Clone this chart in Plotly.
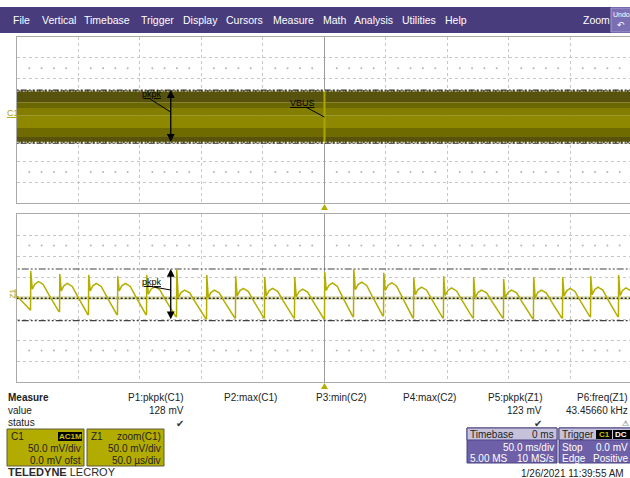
import numpy as np
import plotly.graph_objects as go

W, H = 630, 478

# ---- values ----
# C1, upper pane (50 ms/div, 50 mV/div): persistence band, mV
band_top_mv = [72, 43, 29, 10, -19, -41]
band_bot_mv = [43, 29, 10, -19, -41, -56]
band_colors = ["#57530c", "#6b6700", "#837e00", "#8d8800", "#6f6b00", "#57530c"]
c1_cursor_mv = [72, -56]          # P1 pkpk = 128 mV

# Z1, lower pane (50 us/div, 50 mV/div): one entry per ripple cycle
spike_us = [-239.0, -215.4, -191.9, -168.3, -144.7, -120.3, -95.9, -72.4, -48.8, -24.4, 0.0,
            23.6, 48.0, 72.4, 96.7, 121.1, 145.5, 169.9, 193.5, 216.3, 239.0]
spike_top_mv = [64, 57, 55, 52, 55, 67, 55, 52, 50, 50, 62, 69, 60, 48, 52, 50, 45, 50, 50, 52, 55]
hump_mv = [39, 35, 35, 35, 27, 19, 19, 23, 23, 21, 36, 38, 36, 26, 24, 19, 19, 19, 23, 26, 24]
min_mv = [-29, -33, -40, -40, -40, -45, -50, -48, -48, -48, -50, -45, -43, -48, -48, -48, -48,
          -50, -48, -45, -45]
lead_in_us, lead_in_mv = -250.0, 5.0
# shape of one cycle (phase of period), read from the cycle at the trigger
rise_phase = [0.06, 0.15, 0.27]
rise_off_mv = [-18, -6, 0]
fall_phase = [0.36, 0.44, 0.62, 0.79, 0.97]
fall_frac = [0.04, 0.10, 0.41, 0.71, 0.98]
z1_cursor_mv = [69, -54]          # P5 pkpk = 123 mV

menu_items = ["File", "Vertical", "Timebase", "Trigger", "Display", "Cursors", "Measure",
              "Math", "Analysis", "Utilities", "Help"]
menu_x = [12, 41, 83, 140, 182, 225, 272, 322, 353, 401, 444]

# ---- build Z1 trace ----
zt, zv = [lead_in_us], [lead_in_mv]
n = len(spike_us)
for k in range(n):
    s = spike_us[k]
    P = spike_us[k + 1] - s if k < n - 1 else s - spike_us[k - 1]
    nxt = min_mv[k + 1] if k < n - 1 else min_mv[k]
    zt += [s, s + 0.008 * P]
    zv += [min_mv[k], spike_top_mv[k]]
    for ph, off in zip(rise_phase, rise_off_mv):
        zt.append(s + ph * P)
        zv.append(hump_mv[k] + off)
    for ph, fr in zip(fall_phase, fall_frac):
        zt.append(s + ph * P)
        zv.append(hump_mv[k] + fr * (nxt - hump_mv[k]))

OLIVE = "#b3ae00"
FONT = "Liberation Sans, Arial, sans-serif"
XR = [-250, 248.4]

fig = go.Figure()

# upper pane band
for top, bot, col in zip(band_top_mv, band_bot_mv, band_colors):
    fig.add_trace(go.Scatter(x=[-260, 260, 260, -260, -260], y=[top, top, bot, bot, top],
                             mode="lines", fill="toself", fillcolor=col, line=dict(width=0),
                             hoverinfo="skip", xaxis="x", yaxis="y"))
fig.add_trace(go.Scatter(x=[0, 0], y=[band_bot_mv[-1], band_top_mv[0]], mode="lines",
                         line=dict(color="#aba700", width=2), xaxis="x", yaxis="y"))
for c in c1_cursor_mv:
    inner = c - 1.5 if c > 0 else c + 1.5
    fig.add_trace(go.Scatter(x=[-260, 260], y=[inner, inner], mode="lines",
                             line=dict(color="white", width=1.5, dash="2px,1px,1px,2px"),
                             xaxis="x", yaxis="y"))
    fig.add_trace(go.Scatter(x=[-260, 260], y=[c, c], mode="lines",
                             line=dict(color="#303030", width=1.2, dash="6px,2px,2px,2px,2px,2px"),
                             xaxis="x", yaxis="y"))

# dotted sub-division rows
dot_x = [v for v in np.arange(-250, 251, 10) if v % 50 != 0]
for ax, ay in [("x", "y"), ("x2", "y2")]:
    for lvl in [125, -125]:
        fig.add_trace(go.Scatter(x=dot_x, y=[lvl] * len(dot_x), mode="markers",
                                 marker=dict(color="#b4b4b4", size=2), xaxis=ax, yaxis=ay))

# lower pane
fig.add_trace(go.Scatter(x=[-260, 260], y=[0, 0], mode="lines",
                         line=dict(color="rgba(200,200,120,0.5)", width=4), xaxis="x2", yaxis="y2"))
fig.add_trace(go.Scatter(x=[-260, 260], y=[-0.5, -0.5], mode="lines",
                         line=dict(color="#222", width=1.5, dash="2px,2px"), xaxis="x2", yaxis="y2"))
for c in z1_cursor_mv:
    fig.add_trace(go.Scatter(x=[-260, 260], y=[c, c], mode="lines",
                             line=dict(color="#404040", width=1.2, dash="7px,2px,2px,2px,2px,2px"),
                             xaxis="x2", yaxis="y2"))
fig.add_trace(go.Scatter(x=zt, y=zv, mode="lines", line=dict(color=OLIVE, width=1.5),
                         xaxis="x2", yaxis="y2"))

gx = dict(range=XR, dtick=50, tick0=0, showgrid=True, gridcolor="#c6c6c6", griddash="dot",
          zeroline=True, zerolinecolor="#9c9c9c", zerolinewidth=1, showline=True,
          linecolor="#aaaaaa", mirror=True, showticklabels=False, ticks="",
          domain=[17 / W, 1], fixedrange=True)
gy = dict(range=[-200, 200], dtick=50, tick0=0, showgrid=True, gridcolor="#c6c6c6",
          griddash="dot", zeroline=False, showline=True, linecolor="#aaaaaa", mirror=False,
          showticklabels=False, ticks="", fixedrange=True)

fig.update_layout(
    width=W, height=H, margin=dict(l=0, r=0, t=0, b=0),
    paper_bgcolor="white", plot_bgcolor="white", showlegend=False,
    font=dict(family=FONT, size=10, color="#222"),
    xaxis=dict(gx, anchor="y"),
    yaxis=dict(gy, anchor="x", domain=[1 - 203 / H, 1 - 37 / H]),
    xaxis2=dict(gx, anchor="y2"),
    yaxis2=dict(gy, anchor="x2", domain=[1 - 382 / H, 1 - 214 / H]),
)


def px(x):
    return x / W


def py(y):
    return 1 - y / H


def t2px(t):
    return 17 + (t - XR[0]) / (XR[1] - XR[0]) * (W - 17)


def txt(x, y, s, anchor="left", size=10, color="#222", angle=0):
    fig.add_annotation(x=px(x), y=py(y), xref="paper", yref="paper", text=s, showarrow=False,
                       xanchor=anchor, yanchor="middle", textangle=angle, borderpad=0,
                       font=dict(family=FONT, size=size, color=color))


def rect(x0, y0, x1, y1, fill, line="rgba(0,0,0,0)", lw=1):
    fig.add_shape(type="rect", xref="paper", yref="paper", x0=px(x0), x1=px(x1),
                  y0=py(y0), y1=py(y1), fillcolor=fill, line=dict(color=line, width=lw),
                  layer="above")


# arrows + labels
for xa, ya, cur in [("x", "y", c1_cursor_mv), ("x2", "y2", z1_cursor_mv)]:
    fig.add_annotation(x=-125, y=cur[0], ax=-125, ay=cur[1], xref=xa, yref=ya, axref=xa,
                       ayref=ya, text="", showarrow=True, arrowhead=2, arrowside="end+start",
                       arrowsize=1.2, arrowwidth=1.3, arrowcolor="black")
fig.add_trace(go.Scatter(x=[-141.5, -125], y=[50, 19], mode="lines",
                         line=dict(color="black", width=1), xaxis="x", yaxis="y"))
fig.add_trace(go.Scatter(x=[-15, 0], y=[31, 7], mode="lines",
                         line=dict(color="black", width=1), xaxis="x", yaxis="y"))
fig.add_trace(go.Scatter(x=[-144, -125], y=[29, 19], mode="lines",
                         line=dict(color="black", width=1), xaxis="x2", yaxis="y2"))
fig.add_annotation(x=-140, y=63, xref="x", yref="y", text="<u>pkpk</u>", showarrow=False,
                   font=dict(family=FONT, size=9, color="black"))
fig.add_annotation(x=-18, y=42, xref="x", yref="y", text="<u>VBUS</u>", showarrow=False,
                   font=dict(family=FONT, size=9, color="black"))
fig.add_annotation(x=-140, y=38, xref="x2", yref="y2", text="<u>pkpk</u>", showarrow=False,
                   font=dict(family=FONT, size=9, color="black"))

txt(6, 113, "<u>C1</u>", size=9, color="#a8a300")
txt(6, 294, "<u>Z1</u>", size=8, color="#a8a300", angle=-90)

# trigger markers
tx = t2px(0)
for yb in [210, 389]:
    fig.add_shape(type="path", xref="paper", yref="paper",
                  path=f"M {px(tx-3.5)},{py(yb)} L {px(tx+3.5)},{py(yb)} L {px(tx)},{py(yb-6)} Z",
                  fillcolor=OLIVE, line=dict(width=0))

# menu bar
rect(0, 7, 630, 33, "#483c7d")
for item, x in zip(menu_items, menu_x):
    txt(x, 20, item, size=10.5, color="white")
txt(582, 20, "Zoom", size=10.5, color="white")
rect(611, 8, 634, 32, "#7b6fb3", line="#a59dd0")
txt(621, 14, "Undo", anchor="center", size=7, color="white")
txt(621, 25, "↶", anchor="center", size=9, color="white")

# measurement table
txt(7, 397, "<b>Measure</b>")
txt(7, 410, "value")
txt(7, 422, "status")
txt(185, 397, "P1:pkpk(C1)", anchor="right")
txt(185, 410, "128 mV", anchor="right")
txt(180, 423, "✔", anchor="center", size=10, color="#333")
txt(223, 397, "P2:max(C1)")
txt(315, 397, "P3:min(C2)")
txt(402, 397, "P4:max(C2)")
txt(543, 397, "P5:pkpk(Z1)", anchor="right")
txt(543, 410, "123 mV", anchor="right")
txt(538, 423, "✔", anchor="center", size=10, color="#333")
txt(629, 397, "P6:freq(Z1)", anchor="right")
txt(629, 410, "43.45660 kHz", anchor="right")
txt(625, 423, "⚠", anchor="center", size=8, color="#555")

# channel boxes
rect(7, 429, 84, 466, "#b3ac00", line="#5e5c3a")
txt(10, 436, "C1", size=10)
rect(58, 432, 82, 441, "black")
txt(70, 436.5, "<b>AC1M</b>", anchor="center", size=8, color="#c9c200")
txt(82, 448, "50.0 mV/div", anchor="right")
txt(82, 460, "0.0 mV ofst", anchor="right")
rect(87, 429, 164, 466, "#b3ac00", line="#5e5c3a")
txt(90, 436, "Z1")
txt(162, 436, "zoom(C1)", anchor="right")
txt(162, 448, "50.0 mV/div", anchor="right")
txt(162, 460, "50.0 µs/div", anchor="right")
txt(7, 472, "<b>TELEDYNE</b> LECROY", size=11, color="#2b2b2b")

# timebase / trigger boxes
rect(467, 428, 557, 463, "#6d60a8", line="#4b4280")
rect(467, 428, 557, 440, "#c6c2dc", line="#4b4280")
txt(469, 434, "Timebase", color="#222")
txt(555, 434, "0 ms", anchor="right", color="#222")
txt(555, 447, "50.0 ms/div", anchor="right", color="white")
txt(469, 458, "5.00 MS", color="white")
txt(555, 458, "10 MS/s", anchor="right", color="white")
rect(559, 428, 640, 463, "#6d60a8", line="#4b4280")
rect(559, 428, 640, 440, "#c6c2dc", line="#4b4280")
txt(561, 434, "Trigger", color="#222")
rect(596, 430, 612, 439, "black")
txt(604, 434.5, "<b>C1</b>", anchor="center", size=8, color="#c9c200")
rect(613, 430, 630, 439, "black")
txt(621, 434.5, "<b>DC</b>", anchor="center", size=8, color="white")
txt(561, 447, "Stop", color="white")
txt(629, 447, "0.0 mV", anchor="right", color="white")
txt(561, 458, "Edge", color="white")
txt(629, 458, "Positive", anchor="right", color="white")

txt(625, 473, "1/26/2021 11:39:55 AM", anchor="right")

fig.write_html("out.html", config={"displayModeBar": False},
               post_script="document.body.style.margin='0';document.body.style.overflow='hidden';")
